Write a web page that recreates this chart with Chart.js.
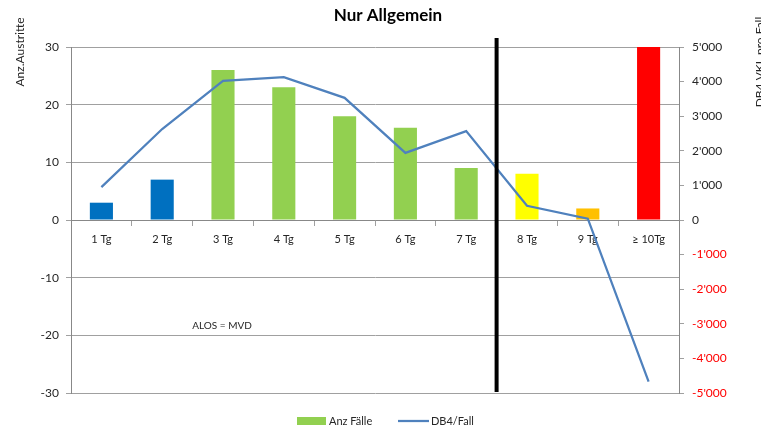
<!DOCTYPE html>
<html>
<head>
<meta charset="utf-8">
<script src="https://cdn.jsdelivr.net/npm/chart.js@4.4.1/dist/chart.umd.min.js"></script>
<style>
  html, body { margin: 0; padding: 0; background: #fff; }
  #wrap { width: 761px; height: 430px; position: relative; }
</style>
</head>
<body>
<div id="wrap"><canvas id="chart"></canvas></div>
<script>
const categories = ['1 Tg', '2 Tg', '3 Tg', '4 Tg', '5 Tg', '6 Tg', '7 Tg', '8 Tg', '9 Tg', '≥ 10Tg'];
const anzFaelle = [3, 7, 26, 23, 18, 16, 9, 8, 2, 30];
const db4ProFall = [950, 2630, 4020, 4130, 3530, 1940, 2570, 410, 40, -4670];
const barColors = ['#0070C0', '#0070C0', '#92D050', '#92D050', '#92D050', '#92D050', '#92D050', '#FFFF00', '#FFC000', '#FF0000'];
const leftTicks = { min: -30, max: 30, step: 10 };
const rightTicks = { min: -5000, max: 5000, step: 1000 };

const FONT = 'Lato, "Liberation Sans", sans-serif';
const TEXT = '#262626';
const GRID = '#a0a0a0';

function fmtThousands(v) {
  const s = Math.abs(v).toString().replace(/\B(?=(\d{3})+(?!\d))/g, "'");
  return (v < 0 ? '-' : '') + s;
}

// title, axis titles, separator, note and legend
const extras = {
  id: 'extras',
  afterDatasetsDraw(chart) {
    const { ctx, chartArea: a, scales } = chart;
    const x = scales.x;
    ctx.save();

    // black separator between 7 Tg and 8 Tg
    const sepX = (x.getPixelForValue(6) + x.getPixelForValue(7)) / 2;
    ctx.strokeStyle = '#000';
    ctx.lineWidth = 4;
    ctx.beginPath();
    ctx.moveTo(sepX, a.top - 9);
    ctx.lineTo(sepX, a.bottom - 1);
    ctx.stroke();
    ctx.restore();
  },
  afterDraw(chart) {
    const { ctx } = chart;
    ctx.save();
    ctx.fillStyle = '#000';
    ctx.textAlign = 'center';
    ctx.textBaseline = 'middle';
    ctx.font = 'bold 17px ' + FONT;
    ctx.fillText('Nur Allgemein', 388, 16);

    ctx.font = '12px ' + FONT;
    ctx.fillStyle = TEXT;
    ctx.save();
    ctx.translate(20, 52);
    ctx.rotate(-Math.PI / 2);
    ctx.fillText('Anz.Austritte', 0, 0);
    ctx.restore();
    ctx.save();
    ctx.translate(760, 62);
    ctx.rotate(-Math.PI / 2);
    ctx.fillText('DB4 VKL pro Fall', 0, 0);
    ctx.restore();

    ctx.font = '10px ' + FONT;
    ctx.fillText('ALOS = MVD', 222, 326);

    // legend
    ctx.font = '11px ' + FONT;
    ctx.textAlign = 'left';
    ctx.fillStyle = '#92D050';
    ctx.fillRect(297, 417, 29, 8);
    ctx.fillStyle = TEXT;
    ctx.fillText('Anz Fälle', 329, 421);
    ctx.strokeStyle = '#4F81BD';
    ctx.lineWidth = 2.25;
    ctx.beginPath();
    ctx.moveTo(398, 421);
    ctx.lineTo(429, 421);
    ctx.stroke();
    ctx.fillText('DB4/Fall', 431, 421);
    ctx.restore();
  }
};

new Chart(document.getElementById('chart'), {
  data: {
    labels: categories,
    datasets: [
      {
        type: 'line',
        label: 'DB4/Fall',
        data: db4ProFall,
        yAxisID: 'y1',
        borderColor: '#4F81BD',
        borderWidth: 2.25,
        pointRadius: 0,
        tension: 0,
        order: 0
      },
      {
        type: 'bar',
        label: 'Anz Fälle',
        data: anzFaelle,
        yAxisID: 'y',
        backgroundColor: barColors,
        categoryPercentage: 1,
        barPercentage: 0.38,
        order: 1
      }
    ]
  },
  options: {
    responsive: true,
    maintainAspectRatio: false,
    animation: false,
    layout: { padding: { top: 47, bottom: 37, left: 0, right: 0 } },
    plugins: {
      legend: { display: false },
      title: { display: false },
      tooltip: { enabled: false }
    },
    scales: {
      x: {
        position: { y: 0 },
        grid: { drawOnChartArea: false, color: GRID, tickLength: 5 },
        border: { color: '#888' },
        ticks: { color: TEXT, font: { family: FONT, size: 11 }, padding: 8, maxRotation: 0 }
      },
      y: {
        position: 'left',
        min: leftTicks.min,
        max: leftTicks.max,
        afterFit: s => { s.width = 71; },
        grid: { color: GRID, tickLength: 5 },
        border: { color: '#888' },
        ticks: { stepSize: leftTicks.step, color: TEXT, font: { family: FONT, size: 12 }, padding: 7 }
      },
      y1: {
        position: 'right',
        min: rightTicks.min,
        max: rightTicks.max,
        afterFit: s => { s.width = 82; },
        grid: { drawOnChartArea: false, color: GRID, tickLength: 5 },
        border: { color: '#888' },
        ticks: {
          stepSize: rightTicks.step,
          font: { family: FONT, size: 12 },
          padding: 8,
          color: c => c.tick && c.tick.value < 0 ? '#FF0000' : TEXT,
          callback: v => fmtThousands(v)
        }
      }
    }
  },
  plugins: [extras]
});
</script>
</body>
</html>
